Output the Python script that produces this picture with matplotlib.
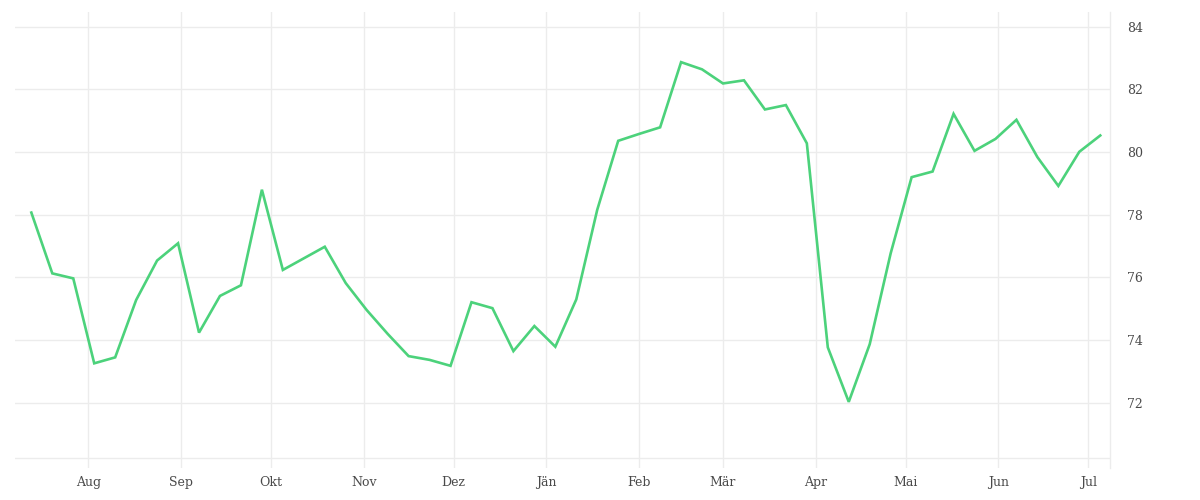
import numpy as np
import pandas as pd
import matplotlib
matplotlib.use("Agg")
import matplotlib.pyplot as plt

# --- data: weekly values ---
dates = pd.date_range("2022-07-13", periods=52, freq="7D")
values = [78.07, 76.13, 75.97, 73.26, 73.45, 75.28, 76.54, 77.09, 74.24, 75.41,
          75.75, 78.80, 76.24, 76.61, 76.98, 75.82, 74.96, 74.20, 73.49, 73.37,
          73.18, 75.21, 75.02, 73.65, 74.45, 73.79, 75.30, 78.16, 80.36, 80.58,
          80.79, 82.87, 82.64, 82.19, 82.29, 81.36, 81.50, 80.28, 73.77, 72.03,
          73.87, 76.77, 79.20, 79.38, 81.22, 80.04, 80.42, 81.03, 79.84, 78.92,
          80.01, 80.53]

month_starts = pd.date_range("2022-08-01", periods=12, freq="MS")
month_labels = ["Aug", "Sep", "Okt", "Nov", "Dez", "Jän", "Feb", "Mär",
                "Apr", "Mai", "Jun", "Jul"]
y_ticks = [72, 74, 76, 78, 80, 82, 84]

line_color = "#4cd27b"
grid_color = "#ececec"
text_color = "#4a4a4a"

plt.rcParams['font.family'] = ['DejaVu Serif']

fig = plt.figure(figsize=(12, 5), dpi=100)
ax = fig.add_axes([0.0125, 0.064, 0.9125, 0.912])

ax.plot(dates, values, color=line_color, linewidth=1.9, solid_joinstyle="miter")

ax.set_xlim(pd.Timestamp("2022-07-07 13:00"), pd.Timestamp("2023-07-08 06:00"))
ax.set_ylim(69.92, 84.47)

ax.set_xticks(month_starts)
ax.set_xticklabels(month_labels)
ax.set_yticks(y_ticks)
ax.yaxis.tick_right()

ax.tick_params(axis="both", length=0, labelsize=9, colors=text_color)
ax.tick_params(axis="x", pad=6)
ax.tick_params(axis="y", pad=12)

ax.grid(True, color=grid_color, linewidth=1)
ax.set_axisbelow(True)
# baseline
ax.axhline(70.23, color=grid_color, linewidth=1, zorder=0)

for side in ["top", "left", "bottom"]:
    ax.spines[side].set_visible(False)
ax.spines["right"].set_color(grid_color)
ax.spines["right"].set_linewidth(1)

fig.savefig("out.png", dpi=100, facecolor="white")
